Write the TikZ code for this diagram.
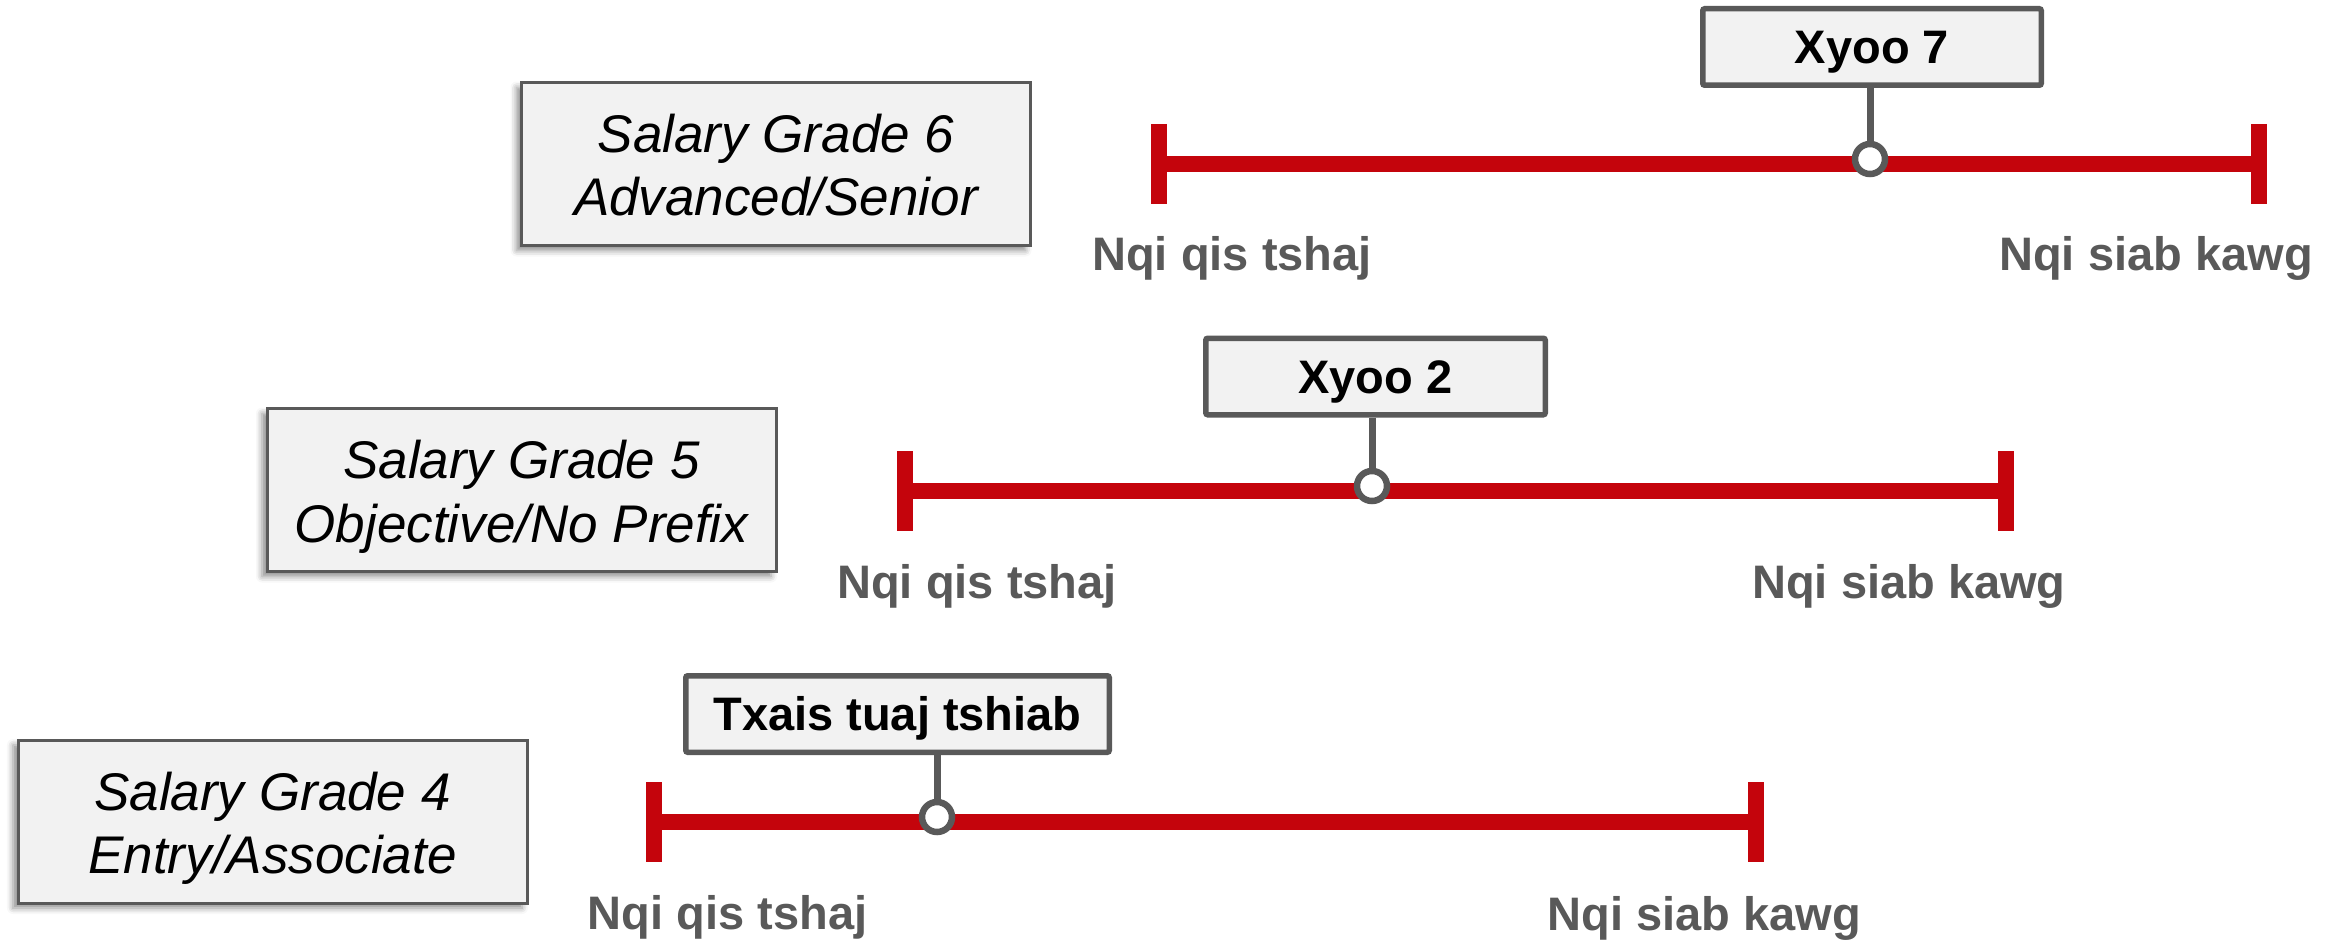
\documentclass[tikz,border=0pt]{standalone}
\usepackage{fontspec}
\setmainfont{Liberation Sans}
\usetikzlibrary{shadows.blur}
\definecolor{barred}{RGB}{196,4,12}
\definecolor{darkgr}{RGB}{89,89,89}
\definecolor{boxfill}{RGB}{242,242,242}
\begin{document}
\begin{tikzpicture}[x=1pt,y=-1pt,
 gradebox/.style={draw=darkgr, line width=3pt, fill=boxfill, minimum width=509pt, minimum height=163pt, inner sep=0pt,
   blur shadow={shadow xshift=-5pt, shadow yshift=-5pt, shadow blur radius=6pt, shadow opacity=45}},
 gradetext/.style={anchor=base, inner sep=0pt, font=\fontsize{53}{63}\selectfont\itshape},
 callout/.style={draw=darkgr, line width=5.5pt, fill=boxfill, rounded corners=2pt, minimum height=76.5pt, inner sep=0pt,
   text height=33.7pt, text depth=0pt, font=\fontsize{47}{56}\selectfont\bfseries},
 rangelabel/.style={anchor=base, inner sep=0pt, text=darkgr, font=\fontsize{47}{56}\selectfont\bfseries},
 redbar/.style={draw=barred, line width=16pt},
 endtick/.style={draw=barred, line width=16pt},
 stem/.style={draw=darkgr, line width=7pt},
 marker/.style={circle, draw=darkgr, line width=6.5pt, fill=white, minimum size=30pt, inner sep=0pt}
]
\useasboundingbox (0,0) rectangle (2341,941);

% ---------- Grade 6 ----------
\node[gradebox] (g6) at (776,164) {};
\node[gradetext] (g6a) at (776,152.5) {Salary Grade 6};
\node[gradetext] (g6b) at (776,216) {Advanced/Senior};
\coordinate (lo6) at (1159,164);
\coordinate (hi6) at (2259,164);
\draw[redbar] (lo6) -- (hi6);
\draw[endtick] ([yshift=40pt]lo6) -- ([yshift=-40pt]lo6);
\draw[endtick] ([yshift=40pt]hi6) -- ([yshift=-40pt]hi6);
\node[callout, minimum width=338.5pt] (c6) at (1872,47) {Xyoo 7};
\node[marker] (m6) at (1870,159) {};
\draw[stem] (c6.south -| m6) -- (m6.north);
\node[rangelabel] (lo6t) at (1232,271) {Nqi qis tshaj};
\node[rangelabel] (hi6t) at (2156,271) {Nqi siab kawg};

% ---------- Grade 5 ----------
\node[gradebox] (g5) at (521.5,490) {};
\node[gradetext] (g5a) at (521.5,478.5) {Salary Grade 5};
\node[gradetext] (g5b) at (521.5,542) {Objective/No Prefix};
\coordinate (lo5) at (905,491);
\coordinate (hi5) at (2006,491);
\draw[redbar] (lo5) -- (hi5);
\draw[endtick] ([yshift=40pt]lo5) -- ([yshift=-40pt]lo5);
\draw[endtick] ([yshift=40pt]hi5) -- ([yshift=-40pt]hi5);
\node[callout, minimum width=339.5pt] (c5) at (1375.5,376.5) {Xyoo 2};
\node[marker] (m5) at (1372,486) {};
\draw[stem] (c5.south -| m5) -- (m5.north);
\node[rangelabel] (lo5t) at (977,598) {Nqi qis tshaj};
\node[rangelabel] (hi5t) at (1909,598) {Nqi siab kawg};

% ---------- Grade 4 ----------
\node[gradebox] (g4) at (272.5,821.5) {};
\node[gradetext] (g4a) at (272.5,810) {Salary Grade 4};
\node[gradetext] (g4b) at (272.5,873.5) {Entry/Associate};
\coordinate (lo4) at (654,822);
\coordinate (hi4) at (1756,822);
\draw[redbar] (lo4) -- (hi4);
\draw[endtick] ([yshift=40pt]lo4) -- ([yshift=-40pt]lo4);
\draw[endtick] ([yshift=40pt]hi4) -- ([yshift=-40pt]hi4);
\node[callout, minimum width=423.5pt] (c4) at (897.5,714) {Txais tuaj tshiab};
\node[marker] (m4) at (937,817) {};
\draw[stem] (c4.south -| m4) -- (m4.north);
\node[rangelabel] (lo4t) at (727.5,929) {Nqi qis tshaj};
\node[rangelabel] (hi4t) at (1704.5,930) {Nqi siab kawg};
\end{tikzpicture}
\end{document}
